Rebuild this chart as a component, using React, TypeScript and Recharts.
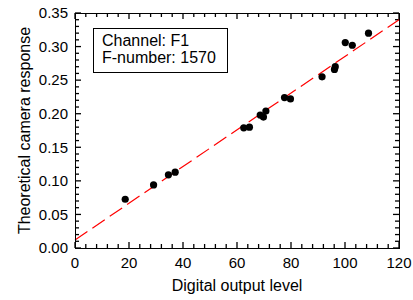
import React from "react";
import { ComposedChart, Scatter, XAxis, YAxis, ReferenceLine } from "recharts";

// measured points (digital output level vs theoretical response)
const levels = [18.6, 29.1, 34.6, 37.1, 62.5, 64.6, 68.6, 69.8, 70.7, 77.6, 79.8, 91.5, 96.1, 96.4, 100.1, 102.7, 108.7];
const responses = [0.0726, 0.094, 0.109, 0.113, 0.179, 0.18, 0.198, 0.195, 0.204, 0.224, 0.222, 0.255, 0.266, 0.27, 0.306, 0.302, 0.32];

// fitted line end points
const fitLine = [
  { x: 0, y: 0.012 },
  { x: 120, y: 0.34 },
];

const xTicks = [0, 20, 40, 60, 80, 100, 120];
const yTicks = [0, 0.05, 0.1, 0.15, 0.2, 0.25, 0.3, 0.35];
const xMinor = Array.from({ length: 31 }, (_, i) => i * 4);
const yMinor = Array.from({ length: 36 }, (_, i) => i / 100);

const X_MAX = 120;
const Y_MAX = 0.35;
const PLOT = { left: 75, right: 399, top: 13, bottom: 248 };
// one pixel in data units, for inward tick lengths
const DX = X_MAX / (PLOT.right - PLOT.left);
const DY = Y_MAX / (PLOT.bottom - PLOT.top);

const points = levels.map((x, i) => ({ x, y: responses[i] }));

const font = "Arial, 'Liberation Sans', sans-serif";
const tickStyle = { fontSize: 15, fill: "#000", fontFamily: font };

const Dot = (props: any) => <circle cx={props.cx} cy={props.cy} r={3.6} fill="#000" />;

// inward tick marks on all four sides
const tickSegs: { x1: number; y1: number; x2: number; y2: number }[] = [];
xMinor.forEach((v) => {
  const len = (v % 20 === 0 ? 6 : 4) * DY;
  tickSegs.push({ x1: v, y1: 0, x2: v, y2: len });
  tickSegs.push({ x1: v, y1: Y_MAX, x2: v, y2: Y_MAX - len });
});
yMinor.forEach((v) => {
  const len = (Math.round(v * 100) % 5 === 0 ? 6 : 4) * DX;
  tickSegs.push({ x1: 0, y1: v, x2: len, y2: v });
  tickSegs.push({ x1: X_MAX, y1: v, x2: X_MAX - len, y2: v });
});

export default function App() {
  return (
    <div style={{ position: "absolute", left: 0, top: 0, width: 413, height: 300, background: "#fff" }}>
      <ComposedChart width={413} height={300} margin={{ top: 13, right: 14, bottom: 12, left: 15 }}>
        <XAxis
          xAxisId="x"
          dataKey="x"
          type="number"
          domain={[0, X_MAX]}
          ticks={xTicks}
          interval={0}
          tickLine={false}
          tickSize={0}
          tickMargin={9}
          axisLine={false}
          tick={tickStyle}
          height={40}
          label={{
            content: () => (
              <text x={(PLOT.left + PLOT.right) / 2} y={291} textAnchor="middle" fontSize={16} fontFamily={font} fill="#000">
                Digital output level
              </text>
            ),
          }}
        />
        <YAxis
          yAxisId="y"
          dataKey="y"
          type="number"
          domain={[0, Y_MAX]}
          ticks={yTicks}
          interval={0}
          tickFormatter={(v: number) => v.toFixed(2)}
          tickLine={false}
          tickSize={0}
          tickMargin={7}
          axisLine={false}
          tick={tickStyle}
          width={60}
          label={{
            content: () => (
              <text
                x={30}
                y={(PLOT.top + PLOT.bottom) / 2}
                transform={`rotate(-90 30 ${(PLOT.top + PLOT.bottom) / 2})`}
                textAnchor="middle"
                fontSize={16}
                fontFamily={font}
                fill="#000"
              >
                Theoretical camera response
              </text>
            ),
          }}
        />
        {tickSegs.map((s, i) => (
          <ReferenceLine
            key={`t${i}`}
            xAxisId="x"
            yAxisId="y"
            segment={[
              { x: s.x1, y: s.y1 },
              { x: s.x2, y: s.y2 },
            ]}
            stroke="#000"
            strokeWidth={1.3}
            ifOverflow="visible"
          />
        ))}
        <ReferenceLine
          xAxisId="x"
          yAxisId="y"
          segment={fitLine}
          stroke="#ff0000"
          strokeWidth={1.2}
          strokeDasharray="15 6"
          ifOverflow="visible"
        />
        <Scatter xAxisId="x" yAxisId="y" data={points} dataKey="y" shape={<Dot />} isAnimationActive={false} />
      </ComposedChart>
      <div
        style={{
          position: "absolute",
          left: PLOT.left,
          top: PLOT.top,
          width: PLOT.right - PLOT.left + 1,
          height: PLOT.bottom - PLOT.top + 1,
          border: "1px solid #000",
          boxSizing: "border-box",
          pointerEvents: "none",
        }}
      />
      <div
        style={{
          position: "absolute",
          left: 93,
          top: 28,
          width: 135,
          height: 45,
          border: "1px solid #000",
          background: "#fff",
          fontFamily: font,
          fontSize: 16,
          lineHeight: "17px",
          padding: "3px 0 0 8px",
          boxSizing: "border-box",
          color: "#000",
        }}
      >
        <div>Channel: F1</div>
        <div>F-number: 1570</div>
      </div>
    </div>
  );
}
